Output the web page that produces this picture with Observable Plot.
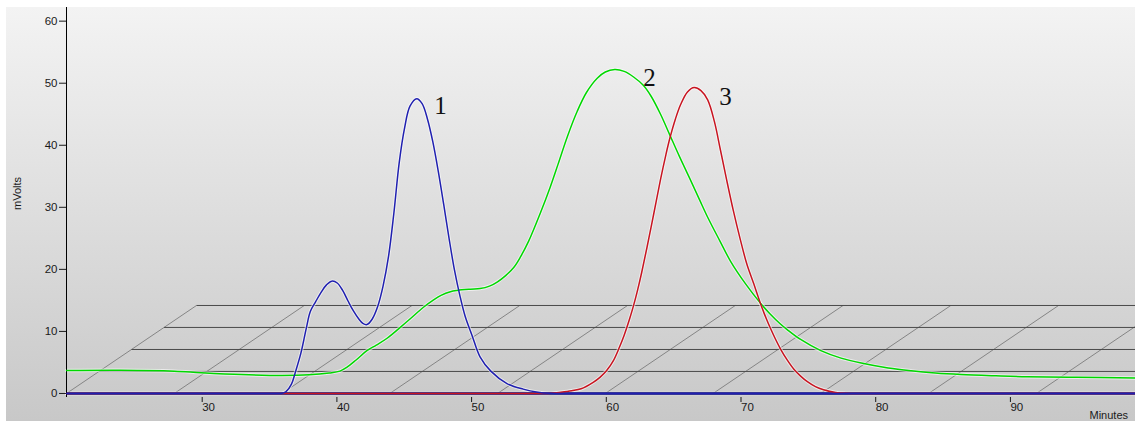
<!DOCTYPE html>
<html>
<head>
<meta charset="utf-8">
<script src="https://cdn.jsdelivr.net/npm/d3@7"></script>
<script src="https://cdn.jsdelivr.net/npm/@observablehq/plot@0.6"></script>
<style>
  html, body { margin: 0; padding: 0; background: #ffffff; }
  #wrap { position: relative; width: 1135px; height: 421px; overflow: hidden; }
  #panel { position: absolute; left: 6px; top: 7px; width: 1129px; height: 414px;
           background: linear-gradient(#f3f3f3, #c8c8c8); }
  #chart { position: absolute; left: 0; top: 0; }
</style>
</head>
<body>
<div id="wrap"><div id="panel"></div><div id="chart"></div></div>
<script>
// ---- Data ----
const xTicks = [30, 40, 50, 60, 70, 80, 90];
const yTicks = [0, 10, 20, 30, 40, 50, 60];

// Series 1 (blue): [minutes, mV]
const series1 = [
  [20,0],[30,0],[35.2,0],[35.7,0],[36.0,0.02],[36.3,0.3],[36.7,1.5],[37.0,3.5],[37.4,6.5],[37.8,10.5],[38.1,13.2],
  [38.5,14.8],[38.9,16.3],[39.3,17.5],[39.7,18.1],[40.1,17.8],[40.5,16.6],[40.9,14.9],
  [41.3,13.3],[41.7,12.0],[42.0,11.3],[42.3,11.1],[42.7,12.0],[43.1,14.0],[43.5,17.3],
  [43.9,22.0],[44.3,29.0],[44.7,37.2],[45.1,42.8],[45.5,46.3],[46.0,47.5],[46.4,46.7],
  [46.8,44.2],[47.2,40.5],[47.6,35.8],[48.0,30.5],[48.4,25.0],[48.8,19.9],[49.2,15.8],
  [49.6,12.4],[50.1,9.4],[50.7,5.9],[51.5,3.6],[52.7,1.6],[53.9,0.7],[55.0,0.2],[55.8,0.02],
  [56.5,0],[57.5,0],[70,0],[99.36,0]
];

// Series 2 (green)
const series2 = [
  [20,3.7],[24,3.75],[28,3.6],[30,3.35],[33,3.05],[36,2.9],[38,3.0],[39.5,3.3],[40.3,3.6],
  [40.8,4.2],[41.5,5.4],[42.3,6.9],[43.0,7.8],[43.8,8.9],[44.8,10.7],[45.5,12.0],[46.5,13.9],
  [47.2,15.0],[47.8,15.8],[48.5,16.4],[49.0,16.6],[50.0,16.8],[50.7,16.9],[51.4,17.3],
  [52.0,18.0],[52.6,19.0],[53.2,20.3],[53.7,22.0],[54.3,24.5],[55.2,29.2],[55.9,33.2],
  [56.5,37.0],[57.2,41.5],[57.9,45.4],[58.6,48.5],[59.4,50.8],[60.0,51.8],[60.7,52.2],
  [61.4,51.9],[62.1,51.0],[62.8,49.7],[63.4,47.9],[64.1,45.0],[64.8,41.6],[65.5,38.2],
  [66.3,34.5],[67.0,31.2],[67.6,28.4],[68.5,24.6],[69.3,21.3],[70.4,17.7],[71.5,14.6],
  [72.2,12.9],[73.0,11.2],[73.5,10.3],[74.5,8.7],[76.0,6.9],[77.5,5.7],[79.0,4.9],[81,4.1],
  [82.7,3.65],[84.5,3.3],[86.4,3.06],[89,2.85],[91.3,2.7],[95,2.6],[99.36,2.5]
];

// Series 3 (red)
const series3 = [
  [20,0],[40,0],[55.0,0],[55.6,0],[56.0,0.02],[56.7,0.2],[57.5,0.45],[58.2,0.75],[59.1,1.8],[59.6,2.6],[60.1,3.7],
  [60.6,5.3],[61.0,7.2],[61.4,9.4],[61.8,12.0],[62.1,14.2],[62.4,16.7],[62.7,19.5],
  [63.1,23.6],[63.6,29.0],[64.1,34.5],[64.5,38.5],[64.8,41.2],[65.2,44.2],[65.6,46.6],
  [66.1,48.6],[66.6,49.3],[67.1,48.8],[67.6,47.3],[68.1,43.8],[68.55,39.2],[69.0,34.5],
  [69.5,29.5],[70.0,25.0],[70.5,20.9],[71.0,17.8],[71.6,14.0],[72.0,11.8],[72.3,10.3],
  [72.6,8.9],[73.0,7.2],[73.5,5.4],[74.0,3.9],[74.5,2.8],[75.0,1.9],[75.6,1.1],[76.2,0.6],
  [77.1,0.15],[77.8,0.02],[78.5,0],[79.5,0],[90,0],[99.36,0]
];

// Peak labels
const peakLabels = ["1", "2", "3"];
const peakLabelX = [47.77, 63.28, 68.92];
const peakLabelY = [45.1, 49.6, 46.5];

// Perspective floor grid (data units)
const floorLevels = [3.55, 7.09, 10.64, 14.18];
const floorStarts = [20, 28, 36, 44, 52, 60, 68, 76, 84, 92];
const floorDepthX = 9.65;
const floorDepthY = 14.18;
const xMin = 20, xMax = 99.36;

// ---- Build ----
const toObj = (arr) => arr.map(([x, y]) => ({x, y}));
const s1 = toObj(series1), s2 = toObj(series2), s3 = toObj(series3);
const labels = peakLabels.map((t, i) => ({t, x: peakLabelX[i], y: peakLabelY[i]}));
const hLines = floorLevels.map(f => ({x1: xMin + floorDepthX * f / floorDepthY, y1: f, x2: xMax, y2: f}));
const dLines = floorStarts.map(s => ({x1: s, y1: 0, x2: s + floorDepthX, y2: floorDepthY}));

const curve = "catmull-rom";
const halo = (data) => Plot.line(data, {x: "x", y: "y", stroke: "white", strokeOpacity: 0.6, strokeWidth: 3.4, curve});

const chart = Plot.plot({
  width: 1135,
  height: 421,
  marginLeft: 66,
  marginRight: 0,
  marginTop: 7,
  marginBottom: 24,
  style: {background: "transparent", fontFamily: "'Liberation Sans', Arial, sans-serif", overflow: "visible"},
  x: {domain: [xMin, xMax]},
  y: {domain: [-0.65, 62.2]},
  marks: [
    // floor grid
    Plot.link(dLines, {x1: "x1", y1: "y1", x2: "x2", y2: "y2", stroke: "#858585", strokeWidth: 1, clip: true}),
    Plot.link(hLines, {x1: "x1", y1: "y1", x2: "x2", y2: "y2", stroke: "#4a4a4a", strokeWidth: 1, clip: true}),
    // halos under curves
    halo(s2), halo(s3), halo(s1),
    // axes
    Plot.ruleY([0], {stroke: "#000070", strokeWidth: 2.4}),
    Plot.ruleX([xMin], {stroke: "#000000", strokeWidth: 1}),
    Plot.axisY({ticks: yTicks, tickSize: 7, tickPadding: 2, fontSize: 11.5, color: "#1a1a1a", label: null}),
    Plot.axisX({ticks: xTicks, tickSize: 5, tickPadding: 0, fontSize: 11.5, textAnchor: "start", dx: 1, color: "#1a1a1a", label: null}),
    // curves
    Plot.line(s2, {x: "x", y: "y", stroke: "#00d800", strokeWidth: 1.5, curve}),
    Plot.line(s3, {x: "x", y: "y", stroke: "#c81420", strokeWidth: 1.5, curve}),
    Plot.line(s1, {x: "x", y: "y", stroke: "#2020b0", strokeWidth: 1.5, curve}),
    // peak labels
    Plot.text(labels, {x: "x", y: "y", text: "t", textAnchor: "middle", lineAnchor: "bottom",
      fontSize: 25, fontFamily: "'Liberation Serif', 'DejaVu Serif', serif", fill: "#111"}),
    // axis titles
    Plot.text(["mVolts"], {frameAnchor: "left", dx: -49, dy: -9, rotate: -90, textAnchor: "middle", fontSize: 11, fill: "#1a1a1a"}),
    Plot.text(["Minutes"], {frameAnchor: "bottom-right", dx: -46, dy: 21, textAnchor: "start", lineAnchor: "bottom", fontSize: 11, fill: "#1a1a1a"})
  ]
});
document.getElementById("chart").appendChild(chart);
</script>
</body>
</html>
